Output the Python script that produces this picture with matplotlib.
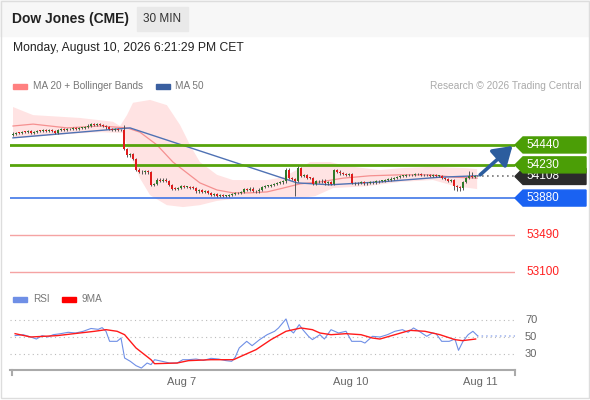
import matplotlib.pyplot as plt
from matplotlib.patches import Rectangle, Polygon
from matplotlib.lines import Line2D
from matplotlib.transforms import blended_transform_factory

plt.rcParams['font.family'] = ['Liberation Sans', 'DejaVu Sans']

# ---- data ----
closes = [
    54560, 54570, 54565, 54580, 54575, 54585, 54570, 54580, 54590, 54585,
    54595, 54590, 54600, 54585, 54570, 54600, 54605, 54600, 54610, 54605,
    54615, 54612, 54618, 54620, 54630, 54645, 54660, 54655, 54660, 54650,
    54640, 54625, 54610, 54600, 54605, 54595, 54600, 54400, 54330, 54340,
    54290, 54180, 54160, 54150, 54165, 54150, 54020, 54030, 54075, 54065,
    54075, 54060, 54015, 53980, 53975, 53985, 54010, 53995, 54000, 53990,
    53985, 53950, 53960, 53945, 53950, 53930, 53915, 53920, 53905, 53910,
    53900, 53905, 53910, 53920, 53935, 53930, 53945, 53975, 53970, 53980,
    53955, 53950, 53970, 53995, 54005, 54010, 54020, 54030, 54040, 54045,
    54055, 54180, 54090, 54080, 54060, 54200, 54115, 54120, 54095, 54090,
    54030, 54060, 54055, 54065, 54035, 54045, 54030, 54175, 54160, 54140,
    54130, 54125, 54130, 54040, 54035, 54040, 54045, 54035, 54040, 54050,
    54045, 54055, 54060, 54060, 54070, 54075, 54085, 54090, 54100, 54110,
    54115, 54120, 54125, 54120, 54130, 54135, 54125, 54120, 54125, 54115,
    54120, 54110, 54115, 54090, 54080, 54060, 54070, 54010, 54000, 53985,
    54050, 54090, 54110, 54100, 54108]
first_open = 54550
wick = 12
high_override = {37: 54650, 91: 54200, 95: 54215, 152: 54170, 153: 54160}
low_override = {94: 53905, 147: 53960, 148: 53955, 149: 53950, 150: 53970}

# MA 20 + Bollinger bands, MA 50 (candle index, price)
mid_idx = [0, 6.7, 18, 29, 38, 42.3, 48, 53.3, 58, 62.3, 68, 73.3, 79, 84.7, 90,
           95.7, 102.3, 110, 119, 129, 139, 147.3, 154.7]
mid_val = [54640, 54660, 54620, 54640, 54620, 54575, 54440, 54260, 54145, 54040,
           53965, 53935, 53935, 53945, 53985, 54030, 54050, 54090, 54115, 54125,
           54125, 54100, 54090]
up_idx = [0, 6.7, 22.3, 33.3, 35.7, 38, 40, 45.7, 51.3, 55.7, 59, 62.3, 68, 73.3,
          84.7, 90, 95.7, 99, 105.7, 110.7, 122.3, 129, 140, 151.3, 154.7]
up_val = [54840, 54755, 54725, 54685, 54640, 54755, 54885, 54915, 54860, 54650,
          54440, 54260, 54125, 54070, 54070, 54100, 54195, 54260, 54260, 54220,
          54175, 54195, 54210, 54195, 54185]
lo_idx = [0, 6.7, 18, 29, 36.7, 40, 42.3, 45.7, 51.3, 56.7, 62.3, 68, 73.3, 84.7,
          95.7, 100.7, 106.7, 118, 129, 140, 147.3, 154.7]
lo_val = [54515, 54525, 54555, 54575, 54565, 54260, 54090, 53910, 53805, 53785,
          53805, 53850, 53870, 53880, 53880, 53900, 53985, 54005, 54050, 54070,
          54005, 53975]
ma50_idx = [0, 39, 94.7, 105.7, 122.3, 142.3, 154.7]
ma50_val = [54515, 54620, 54040, 54020, 54050, 54100, 54115]

last_price = 54108
resist = [54440, 54230]
support = [53880, 53490, 53100]

# RSI and its 9MA
rsi_idx = [0.7, 3.4, 5.9, 7.8, 9.7, 11.6, 13.4, 15.9, 18.4, 20.9, 23.4, 26, 28.4,
           29.7, 31, 32.2, 34.7, 36, 37.2, 39.1, 41, 42.8, 44.7, 46, 47.2, 49.7,
           52.2, 54.7, 56.6, 58.5, 61, 63.5, 66, 68.5, 71, 72.9, 74.1, 75.4, 77.9,
           79.7, 82.2, 84.7, 87.2, 88.5, 91, 92.2, 93.5, 95.4, 96.6, 98.5, 99.8,
           102.3, 103.8, 106, 108.5, 111, 112.9, 116, 117.3, 119.8, 122.3, 124.8,
           127.3, 129.8, 131.7, 133.5, 135.4, 137.9, 139.8, 141, 142.9, 145.4,
           147.3, 148.5, 150, 151.7, 153.3, 154.8]
rsi_val = [51.6, 52.7, 50, 47.6, 51.6, 50, 52.7, 53.9, 55.5, 54.7, 56.7, 60, 59,
           61, 56.7, 44.9, 44.9, 48.8, 25.3, 21.4, 16.3, 13.5, 19.4, 17.5, 23.3,
           21.4, 19.4, 19.4, 23.3, 23.3, 24.1, 22.5, 24.9, 24.1, 22.2, 21.4, 26.5,
           37.1, 44.9, 39.8, 46.9, 52.7, 56.7, 60.6, 71.2, 58.6, 54.7, 64.5, 58.6,
           50.8, 46.9, 52.7, 47.6, 58.6, 54.7, 56.7, 44.9, 44.9, 42.9, 50.8, 50,
           52.7, 56.7, 58.6, 55.5, 60.6, 56.7, 50.8, 54.7, 53.9, 44.9, 44.9, 47.6,
           34.3, 44.9, 52.7, 56.7, 51.6]
ma9_idx = [0.7, 5.9, 14.7, 27.2, 31, 34.7, 37.2, 41, 46, 47.2, 54.7, 58.5, 66,
           73.5, 76, 81, 86, 91, 96, 99.8, 102.3, 106, 111, 116, 119.8, 122.3,
           127.3, 132.3, 137.3, 142.3, 147.3, 149.8, 154.2]
ma9_val = [53.9, 50, 51.6, 56.7, 58.6, 56.7, 52.7, 37.1, 23.3, 18.6, 19.4, 22.2,
           23.3, 23.3, 27.3, 35.1, 46.9, 56.7, 60.6, 58.6, 54.7, 52.7, 53.9, 52.7,
           48.8, 47.6, 52.7, 57.8, 56.7, 52.7, 46.9, 45.7, 47.6]

date_pos = [56.3, 112.7, 155.7]
date_lbl = ['Aug 7', 'Aug 10', 'Aug 11']

# ---- figure ----
W, H = 590, 400
fig = plt.figure(figsize=(5.9, 4.0), dpi=100)


def fx(x):
    return x / W


def fy(y):
    return 1 - y / H


# header
fig.patches.append(Rectangle((0, fy(36)), 1, 36 / H, transform=fig.transFigure,
                             color='#f7f7f7', zorder=0))
fig.patches.append(Rectangle((fx(137), fy(31)), 51 / W, 24 / H, transform=fig.transFigure,
                             color='#e9e9e9', zorder=1))
fig.patches.append(Rectangle((0.001, 0.004), 0.997, 0.994, transform=fig.transFigure,
                             fill=False, ec='#dddddd', lw=1, zorder=1))
fig.text(fx(12), fy(19), 'Dow Jones (CME)', fontsize=10, fontweight='bold',
         color='#222222', va='center')
fig.text(fx(162.5), fy(19), '30 MIN', fontsize=8.5, color='#333333', va='center', ha='center')
fig.text(fx(13), fy(48), 'Monday, August 10, 2026 6:21:29 PM CET', fontsize=8.7,
         color='#222222', va='center')

# legends
fig.patches.append(Rectangle((fx(13), fy(88.5)), 14 / W, 5 / H, transform=fig.transFigure,
                             color='#ff8080'))
fig.text(fx(33), fy(86), 'MA 20 + Bollinger Bands', fontsize=7.2, color='#777777', va='center')
fig.patches.append(Rectangle((fx(156), fy(88.5)), 14 / W, 5 / H, transform=fig.transFigure,
                             color='#3a5fa0'))
fig.text(fx(175), fy(86), 'MA 50', fontsize=7.2, color='#777777', va='center')
fig.text(fx(581), fy(86), 'Research \u00a9 2026 Trading Central', fontsize=7.3,
         color='#aaaaaa', va='center', ha='right')

fig.patches.append(Rectangle((fx(13), fy(301.5)), 14 / W, 5 / H, transform=fig.transFigure,
                             color='#6f8fe6'))
fig.text(fx(33), fy(299), 'RSI', fontsize=7.2, color='#777777', va='center')
fig.patches.append(Rectangle((fx(62), fy(301.5)), 14 / W, 5 / H, transform=fig.transFigure,
                             color='#ff0000'))
fig.text(fx(82), fy(299), '9MA', fontsize=7.2, color='#777777', va='center')

# ---- price panel ----
ax = fig.add_axes([fx(10), fy(285), 505 / W, 190 / H])
ax.set_xlim(-1, 167.33)
ax.set_ylim(52963, 54967)
ax.axis('off')

ax.fill(up_idx + lo_idx[::-1], up_val + lo_val[::-1],
        color='#ffdada', alpha=0.75, lw=0, zorder=1)
ax.plot(mid_idx, mid_val, color='#f59090', lw=0.9, zorder=2)
ax.plot(ma50_idx, ma50_val, color='#4f72b4', lw=1, zorder=2)

for p in resist:
    ax.axhline(p, color='#56a30c', lw=2, zorder=2)
ax.axhline(support[0], color='#2f6be6', lw=1.1, zorder=2)
for p in support[1:]:
    ax.axhline(p, color='#f5a3a3', lw=1, zorder=2)

opens = [first_open] + closes[:-1]
idx = list(range(len(closes)))
highs, lows, bots, hts, cols = [], [], [], [], []
for i, (o, c) in enumerate(zip(opens, closes)):
    highs.append(high_override.get(i, max(o, c) + wick))
    lows.append(low_override.get(i, min(o, c) - wick))
    bots.append(min(o, c))
    hts.append(max(abs(c - o), 8))
    cols.append('#2f7a2a' if c >= o else '#e01b1b')
ax.vlines(idx, lows, highs, color='#555555', lw=0.7, zorder=3)
ax.bar(idx, hts, bottom=bots, width=0.8, color=cols, zorder=4)

ax.plot([idx[-1] + 0.5, 167.33], [last_price, last_price], color='#777777', lw=1.2,
        ls=(0, (1, 2)), zorder=2, clip_on=False)
ax.annotate('', xy=(166.5, 54430), xytext=(155.7, 54125), annotation_clip=False,
            arrowprops=dict(arrowstyle='-|>,head_length=0.7,head_width=0.45',
                            color='#2c5d9e', lw=2.6, shrinkA=0, shrinkB=0,
                            mutation_scale=16), zorder=5)

bt = blended_transform_factory(fig.transFigure, ax.transData)
dp = 8 * 10.55


def tag(price, color, z):
    pts = [(fx(515), price), (fx(523), price + dp), (fx(586), price + dp),
           (fx(586), price - dp), (fx(523), price - dp)]
    fig.add_artist(Polygon(pts, closed=True, transform=bt, color=color, zorder=z))
    fig.text(fx(526), price, str(price), transform=bt, color='white', fontsize=8.5,
             va='center', zorder=z)


tag(last_price, '#2b2b2b', 5)
tag(resist[1], '#4b9e06', 6)
tag(resist[0], '#4b9e06', 6)
tag(support[0], '#1a62f2', 6)
for p in support[1:]:
    fig.text(fx(526), p, str(p), transform=bt, color='#ff2020', fontsize=8.5, va='center')

# ---- RSI panel ----
rx = fig.add_axes([fx(10), fy(370), 505 / W, 65 / H])
rx.set_xlim(-1, 167.33)
rx.set_ylim(11.2, 87.6)
for s in ['top', 'left', 'right']:
    rx.spines[s].set_visible(False)
rx.spines['bottom'].set_color('#aaaaaa')
rx.spines['bottom'].set_linewidth(1.5)
rx.set_yticks([])
rx.set_xticks(date_pos, date_lbl)
rx.tick_params(axis='x', length=0, pad=5, labelsize=8, labelcolor='#666666')
rt = blended_transform_factory(fig.transFigure, rx.transData)
for g in [30, 50, 70]:
    rx.axhline(g, color='#bbbbbb', lw=0.8, ls=(0, (1, 3)), zorder=1)
    fig.text(fx(525), g, str(g), transform=rt, fontsize=8, color='#666666', va='center')
rx.plot(rsi_idx, rsi_val, color='#6f8fe6', lw=0.8, zorder=3)
rx.plot(ma9_idx, ma9_val, color='#ff1a1a', lw=1, zorder=4)
rx.plot([rsi_idx[-1], 167.33], [rsi_val[-1], rsi_val[-1]], color='#9fb3ee', lw=1.1,
        ls=(0, (1, 2)), zorder=2)
for xe in [12, 515]:
    fig.add_artist(Line2D([fx(xe), fx(xe)], [fy(370), fy(375)], transform=fig.transFigure,
                          color='#aaaaaa', lw=1.5))

fig.savefig('out.png', dpi=100)
